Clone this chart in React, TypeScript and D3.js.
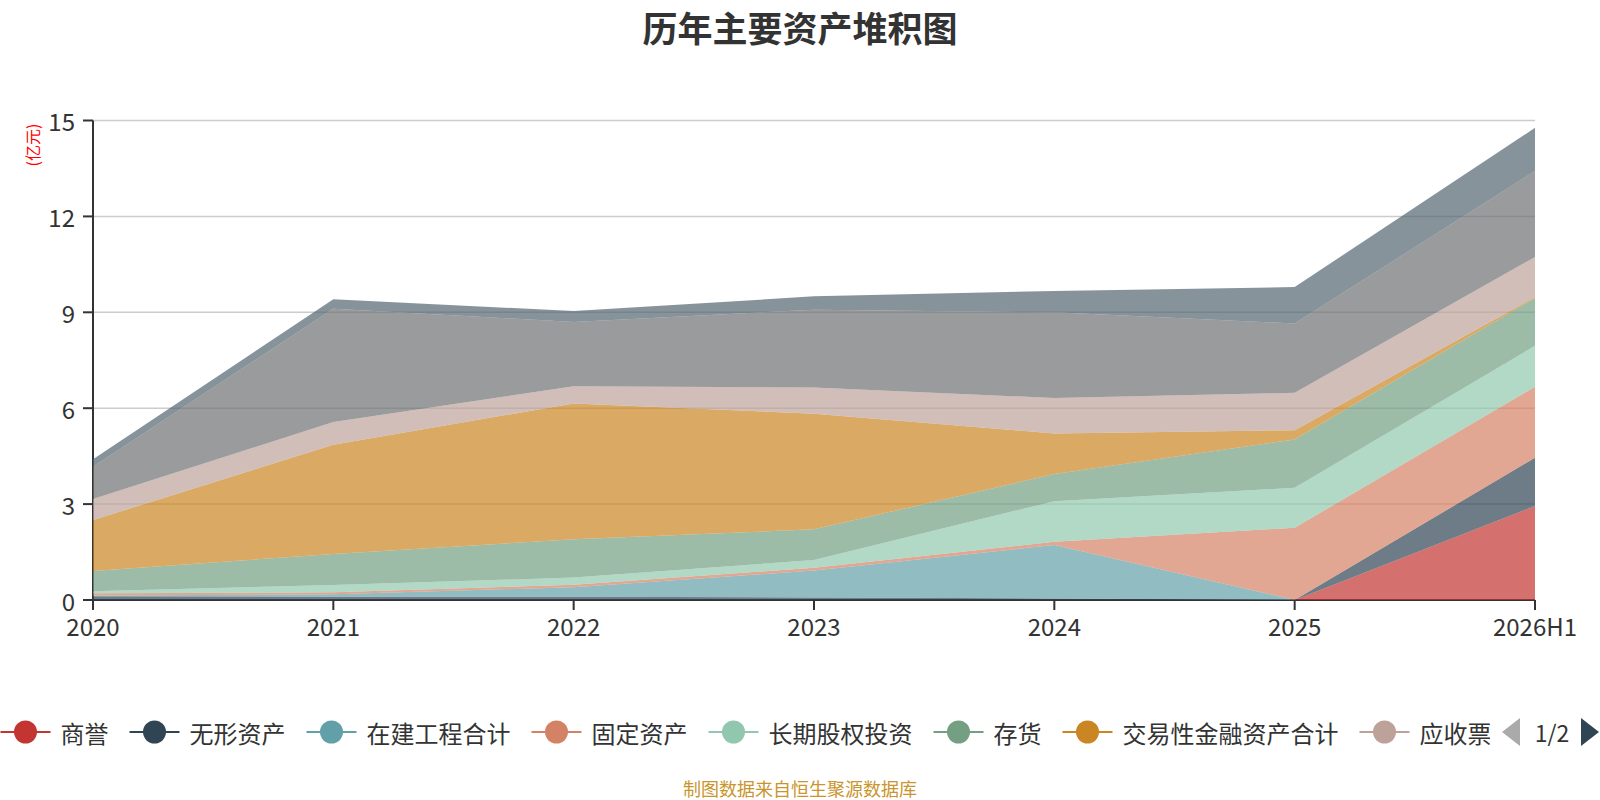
import React, { useEffect } from "react";
import * as d3 from "d3";

// categories (x axis)
const years = ["2020", "2021", "2022", "2023", "2024", "2025", "2026H1"];

// series values, 亿元, bottom of the stack first
const goodwill = [0, 0, 0, 0, 0, 0, 2.94];
const intangible = [0.12, 0.1, 0.1, 0.08, 0.05, 0, 1.51];
const construction = [0.02, 0.08, 0.3, 0.84, 1.67, 0, 0];
const fixedAssets = [0.07, 0.06, 0.08, 0.09, 0.1, 2.26, 2.22];
const equityInvest = [0.06, 0.23, 0.22, 0.24, 1.27, 1.25, 1.28];
const inventory = [0.64, 0.97, 1.2, 0.96, 0.85, 1.51, 1.5];
const tradingFin = [1.59, 3.42, 4.25, 3.62, 1.27, 0.29, 0.03];
const receivables = [0.66, 0.71, 0.54, 0.82, 1.11, 1.17, 1.25];
const cash = [1.01, 3.54, 2.01, 2.43, 2.68, 2.17, 2.69];
const others = [0.23, 0.3, 0.34, 0.42, 0.67, 1.14, 1.35];

const seriesNames = [
  "商誉",
  "无形资产",
  "在建工程合计",
  "固定资产",
  "长期股权投资",
  "存货",
  "交易性金融资产合计",
  "应收票据及应收账款",
  "货币资金",
  "其他资产",
];
const seriesValues = [
  goodwill,
  intangible,
  construction,
  fixedAssets,
  equityInvest,
  inventory,
  tradingFin,
  receivables,
  cash,
  others,
];

const yTicks = [0, 3, 6, 9, 12, 15];

const colors = [
  "#c23531",
  "#2f4554",
  "#61a0a8",
  "#d48265",
  "#91c7ae",
  "#749f83",
  "#ca8622",
  "#bda29a",
  "#6e7074",
  "#546570",
];

const W = 1600;
const H = 800;
const margin = { top: 120.5, right: 65, bottom: 200, left: 93 };
const FONT = "'Noto Sans CJK SC', 'Noto Sans', sans-serif";

const App: React.FC = () => {
  useEffect(() => {
    document.body.style.margin = "0";
  }, []);

  const x = d3
    .scalePoint<string>()
    .domain(years)
    .range([margin.left, W - margin.right]);

  const y = d3
    .scaleLinear()
    .domain([0, 15])
    .range([H - margin.bottom, margin.top]);

  // table of rows for d3.stack
  const rows = years.map((yr, i) => {
    const row: Record<string, number | string> = { year: yr };
    seriesNames.forEach((name, s) => {
      row[name] = seriesValues[s][i];
    });
    return row;
  });

  const stacked = d3.stack<Record<string, number | string>>().keys(seriesNames)(rows);

  const area = d3
    .area<d3.SeriesPoint<Record<string, number | string>>>()
    .x((d) => x(d.data.year as string) as number)
    .y0((d) => y(d[0]))
    .y1((d) => y(d[1]));

  const x0 = margin.left;
  const x1 = W - margin.right;
  const yBase = y(0);

  // legend (first page only, clipped like a scroll legend)
  const legendY = 732;
  const iconW = 50;
  const charW = 24;
  let cursor = 0.5;
  const legendItems = seriesNames.slice(0, 8).map((name, i) => {
    const item = { name, color: colors[i], x: cursor };
    cursor += iconW + 10 + name.length * charW + 21;
    return item;
  });

  return (
    <svg width={W} height={H} style={{ display: "block", fontFamily: FONT }}>
      <defs>
        <clipPath id="legendClip">
          <rect x={0} y={legendY - 30} width={1490} height={60} />
        </clipPath>
      </defs>

      {/* title */}
      <text
        x={W / 2}
        y={26}
        textAnchor="middle"
        dominantBaseline="central"
        fontSize={35}
        fontWeight="bold"
        fill="#333"
      >
        历年主要资产堆积图
      </text>

      {/* unit label */}
      <text
        transform={`translate(32, 145) rotate(-90)`}
        textAnchor="middle"
        dominantBaseline="central"
        fontSize={16}
        fill="#ff0000"
      >
        (亿元)
      </text>

      {/* grid lines */}
      {yTicks
        .filter((t) => t > 0)
        .map((t) => (
          <line key={t} x1={x0} x2={x1} y1={y(t)} y2={y(t)} stroke="#ccc" strokeWidth={1.5} />
        ))}

      {/* y axis */}
      <line x1={x0} x2={x0} y1={margin.top} y2={yBase} stroke="#333" strokeWidth={2} />
      {yTicks.map((t) => (
        <g key={t}>
          <line x1={x0 - 10} x2={x0} y1={y(t)} y2={y(t)} stroke="#333" strokeWidth={2} />
          <text
            x={x0 - 18}
            y={y(t)}
            textAnchor="end"
            dominantBaseline="central"
            fontSize={24}
            fill="#333"
          >
            {t}
          </text>
        </g>
      ))}

      {/* x axis */}
      <line x1={x0} x2={x1} y1={yBase} y2={yBase} stroke="#333" strokeWidth={2} />
      {years.map((yr) => (
        <g key={yr}>
          <line
            x1={x(yr)}
            x2={x(yr)}
            y1={yBase}
            y2={yBase + 10}
            stroke="#333"
            strokeWidth={2}
          />
          <text
            x={x(yr)}
            y={yBase + 25}
            textAnchor="middle"
            dominantBaseline="central"
            fontSize={24}
            fill="#333"
          >
            {yr}
          </text>
        </g>
      ))}

      {/* stacked areas */}
      {stacked.map((layer, i) => (
        <path key={layer.key} d={area(layer) ?? ""} fill={colors[i]} fillOpacity={0.7} />
      ))}

      {/* legend */}
      <g clipPath="url(#legendClip)">
        {legendItems.map((it) => (
          <g key={it.name}>
            <line
              x1={it.x}
              x2={it.x + iconW}
              y1={legendY}
              y2={legendY}
              stroke={it.color}
              strokeWidth={2}
            />
            <circle cx={it.x + iconW / 2} cy={legendY} r={11.5} fill={it.color} />
            <text
              x={it.x + iconW + 10}
              y={legendY}
              dominantBaseline="central"
              fontSize={24}
              fill="#333"
            >
              {it.name}
            </text>
          </g>
        ))}
      </g>

      {/* legend pager */}
      <path
        d={`M1520,${legendY - 14} L1502,${legendY} L1520,${legendY + 14} Z`}
        fill="#aaa"
      />
      <text x={1552} y={legendY} textAnchor="middle" dominantBaseline="central" fontSize={23} fill="#333">
        1/2
      </text>
      <path
        d={`M1581,${legendY - 14} L1599,${legendY} L1581,${legendY + 14} Z`}
        fill="#2f4554"
      />

      {/* source note */}
      <text x={W / 2} y={788} textAnchor="middle" dominantBaseline="central" fontSize={18} fill="#c9952c">
        制图数据来自恒生聚源数据库
      </text>
    </svg>
  );
};

export default App;
